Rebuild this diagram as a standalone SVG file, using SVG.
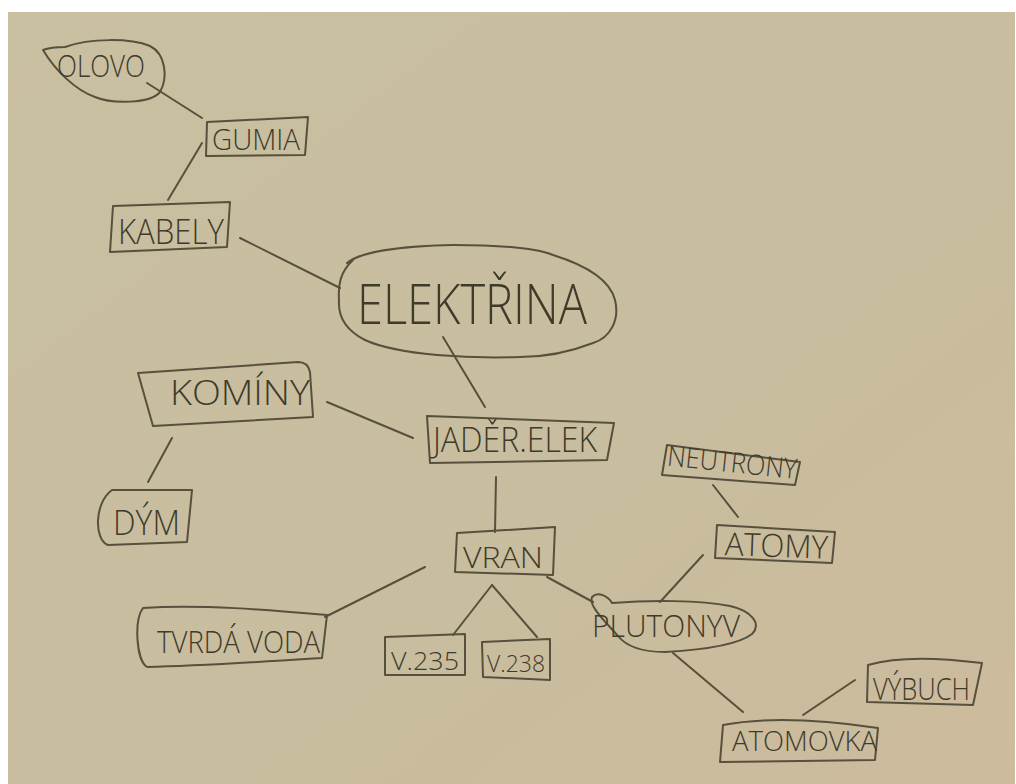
<svg xmlns="http://www.w3.org/2000/svg" width="1016" height="784" viewBox="0 0 1016 784">
<defs>
<linearGradient id="paper" x1="0" y1="0" x2="1" y2="1">
<stop offset="0" stop-color="#c9c0a1"/>
<stop offset="0.6" stop-color="#c8bd9e"/>
<stop offset="1" stop-color="#cdbb9d"/>
</linearGradient>
<style>
.ink{fill:none;stroke:#56503c;stroke-width:2;stroke-linecap:round;stroke-linejoin:round}
.t{font-family:"Open Sans","Liberation Sans","DejaVu Sans",sans-serif;font-weight:300;fill:#3f3a2a}
</style>
</defs>
<rect x="0" y="0" width="1016" height="784" fill="#ffffff"/>
<rect x="8" y="12" width="1007" height="772" fill="url(#paper)"/>

<g id="connectors" class="ink">
<path d="M147,83 L202,118"/>
<path d="M202,143 L168,200"/>
<path d="M240,238 L340,288"/>
<path d="M443,337 L485,407"/>
<path d="M327,402 L413,438"/>
<path d="M172,438 L148,482"/>
<path d="M496,477 L495,532"/>
<path d="M425,567 L325,617"/>
<path d="M492,585 L453,635"/>
<path d="M492,585 L537,637"/>
<path d="M547,577 L593,602"/>
<path d="M703,555 L660,602"/>
<path d="M713,485 L738,517"/>
<path d="M673,653 L743,712"/>
<path d="M803,715 L855,680"/>
</g>

<g id="olovo">
<path class="ink" d="M43,50 C48,48 58,47 65,47 C90,38 130,38 150,46 C166,54 168,78 160,92 C150,104 112,104 95,97 C75,90 55,70 43,50 Z"/>
<text class="t" x="57" y="77" font-size="32" textLength="88" lengthAdjust="spacingAndGlyphs">OLOVO</text>
</g>

<g id="gumia">
<path class="ink" d="M207,122 L308,117 L305,155 L206,156 Z"/>
<text class="t" x="212" y="150" font-size="30" textLength="88" lengthAdjust="spacingAndGlyphs">GUMIA</text>
</g>

<g id="kabely">
<path class="ink" d="M113,206 L230,202 L227,247 L110,252 Z"/>
<text class="t" x="118" y="244" font-size="34" textLength="106" lengthAdjust="spacingAndGlyphs">KABELY</text>
</g>

<g id="elektrina">
<path class="ink" d="M347,263 C360,252 400,246 453,245 C500,245 535,248 553,255 C585,265 610,280 615,300 C620,320 610,338 593,343 C570,352 545,357 520,357 C490,358 460,357 437,355 C405,352 380,347 365,340 C345,330 338,315 339,300 C338,285 340,272 353,260"/>
<text class="t" x="357" y="324" font-size="56" textLength="230" lengthAdjust="spacingAndGlyphs">ELEKTŘINA</text>
</g>

<g id="kominy">
<path class="ink" d="M138,373 L298,362 Q308,362 310,372 L313,417 L153,426 Z"/>
<text class="t" x="170" y="405" font-size="34" textLength="140" lengthAdjust="spacingAndGlyphs">KOMÍNY</text>
</g>

<g id="dym">
<path class="ink" d="M112,490 L192,490 L187,542 L108,545 C94,540 94,503 112,490 Z"/>
<text class="t" x="113" y="535" font-size="34" textLength="67" lengthAdjust="spacingAndGlyphs">DÝM</text>
</g>

<g id="jader">
<path class="ink" d="M427,416 L614,423 L607,460 L430,463 Z"/>
<text class="t" x="433" y="452" font-size="34" textLength="164" lengthAdjust="spacingAndGlyphs">JADĚR.ELEK</text>
</g>

<g id="vran">
<path class="ink" d="M457,533 L555,527 L553,575 L455,572 Z"/>
<text class="t" x="463" y="568" font-size="30" textLength="80" lengthAdjust="spacingAndGlyphs">VRAN</text>
</g>

<g id="tvrda-voda">
<path class="ink" d="M143,608 C200,604 270,610 327,615 L322,658 C260,662 200,666 147,667 C136,660 134,620 143,608 Z"/>
<text class="t" x="157" y="653" font-size="32" textLength="163" lengthAdjust="spacingAndGlyphs">TVRDÁ VODA</text>
</g>

<g id="v235">
<path class="ink" d="M385,637 L465,634 L465,675 L385,675 Z"/>
<text class="t" x="391" y="670" font-size="26" textLength="68" lengthAdjust="spacingAndGlyphs">V.235</text>
</g>

<g id="v238">
<path class="ink" d="M482,642 L550,639 L550,680 L483,677 Z"/>
<text class="t" x="487" y="672" font-size="24" textLength="58" lengthAdjust="spacingAndGlyphs">V.238</text>
</g>

<g id="plutonyv">
<path class="ink" d="M592,597 C598,591 608,596 612,603 C650,600 700,600 730,606 C752,611 762,624 752,634 C738,645 700,650 665,652 C642,652 626,646 618,636 C606,622 588,606 592,597 Z"/>
<text class="t" x="592" y="637" font-size="32" textLength="148" lengthAdjust="spacingAndGlyphs">PLUTONYV</text>
</g>

<g id="neutrony">
<path class="ink" d="M667,445 L800,462 L795,485 L662,475 Z"/>
<text class="t" x="667" y="472" font-size="28" textLength="130" lengthAdjust="spacingAndGlyphs" transform="rotate(6 730 465)">NEUTRONY</text>
</g>

<g id="atomy">
<path class="ink" d="M717,525 L835,532 L832,563 L715,558 Z"/>
<text class="t" x="725" y="557" font-size="32" textLength="103" lengthAdjust="spacingAndGlyphs" transform="rotate(2 776 545)">ATOMY</text>
</g>

<g id="atomovka">
<path class="ink" d="M723,725 C760,718 810,718 878,728 L875,760 L720,762 Z"/>
<text class="t" x="732" y="751" font-size="28" textLength="145" lengthAdjust="spacingAndGlyphs">ATOMOVKA</text>
</g>

<g id="vybuch">
<path class="ink" d="M868,665 C900,656 940,658 982,663 L973,705 L867,702 Z"/>
<text class="t" x="873" y="700" font-size="32" textLength="97" lengthAdjust="spacingAndGlyphs">VÝBUCH</text>
</g>
</svg>
